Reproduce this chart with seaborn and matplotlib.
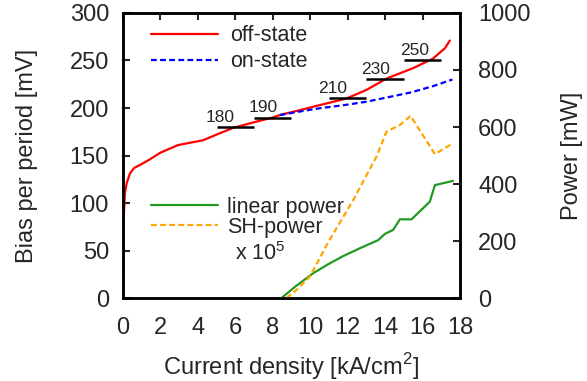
import matplotlib
matplotlib.use("Agg")
import matplotlib.pyplot as plt
import seaborn as sns
import pandas as pd

# Bias per period (mV) versus current density (kA/cm^2)
off_j = [0.0, 0.02, 0.05, 0.1, 0.2, 0.37, 0.6, 1.0, 1.44, 2.0, 2.94, 4.27, 5.18, 5.87, 7.0, 8.0, 8.38,
         9.5, 10.5, 11.94, 13.0, 14.08, 15.5, 16.56, 17.2, 17.46]
off_v = [10, 60, 88, 110, 121, 131, 137, 141, 146, 153, 161, 166, 173.5, 179, 185, 190, 192.6,
         198, 203, 210, 219, 231, 242, 252, 263, 271]
on_j = [8.38, 9.5, 10.5, 11.8, 13.0, 14.2, 15.4, 16.56, 17.6]
on_v = [192.6, 196.5, 199.7, 203, 206.6, 211.5, 216.5, 223, 230]

# Voltage step markers and their labels
step_v = [180, 190, 210, 230, 250]
step_j0 = [5.0, 7.0, 11.0, 13.0, 15.0]
step_j1 = [7.0, 9.0, 13.0, 15.0, 17.0]
step_label_j = [5.2, 7.5, 11.2, 13.5, 15.6]

# Output power (mW)
lin_j = [8.47, 9.2, 10.16, 11.0, 11.76, 12.7, 13.63, 13.99, 14.43, 14.79, 15.41, 16.39, 16.66, 17.63]
lin_p = [0, 40, 87, 120, 147, 176, 203, 225, 239, 276, 276, 338, 396, 411]
sh_j = [8.74, 9.3, 9.98, 11.0, 12.3, 13.0, 13.54, 14.08, 14.79, 15.36, 16.66, 17.63]
sh_p = [0, 30, 75, 200, 344, 430, 496, 584, 607, 639, 505, 543]

sns.set_style("white")
plt.rcParams["font.family"] = ["Liberation Sans", "DejaVu Sans"]
plt.rcParams["mathtext.fontset"] = "custom"
plt.rcParams["mathtext.rm"] = "Liberation Sans"

FS = 17
LFS = 15.5
LW = 1.6
DASH = (0, (2.6, 1.5))

fig = plt.figure(figsize=(5.87, 3.81), dpi=100)
ax = fig.add_axes([0.2095, 0.2178, 0.5741, 0.7481])
ax2 = ax.twinx()

off_df = pd.DataFrame({"j": off_j, "v": off_v})
on_df = pd.DataFrame({"j": on_j, "v": on_v})
sns.lineplot(data=off_df, x="j", y="v", ax=ax, color="#ff0000", lw=LW, label="off-state",
             sort=False, estimator=None)
sns.lineplot(data=on_df, x="j", y="v", ax=ax, color="#0000ff", lw=LW, label="on-state",
             sort=False, estimator=None, linestyle=DASH)

for v, a, b, lj in zip(step_v, step_j0, step_j1, step_label_j):
    ax.plot([a, b], [v, v], color="black", lw=1.8, solid_capstyle="butt")
    ax.text(lj, v + 2.5, str(v), fontsize=12.5, ha="center", va="bottom")

lin_df = pd.DataFrame({"j": lin_j, "p": lin_p})
sh_df = pd.DataFrame({"j": sh_j, "p": sh_p})
sns.lineplot(data=lin_df, x="j", y="p", ax=ax2, color="#229922", lw=LW, label="linear power",
             sort=False, estimator=None)
sns.lineplot(data=sh_df, x="j", y="p", ax=ax2, color="#ffa500", lw=LW,
             label="SH-power", sort=False, estimator=None, linestyle=DASH)

ax.set_xlim(0, 18)
ax.set_ylim(0, 300)
ax2.set_ylim(0, 1000)
ax.set_xticks(range(0, 19, 2))
ax.set_yticks(range(0, 301, 50))
ax2.set_yticks(range(0, 1001, 200))

ax.set_xlabel("Current density [kA/cm$^2$]", fontsize=FS, labelpad=8.5)
ax.set_ylabel("Bias per period [mV]", fontsize=FS, labelpad=23)
ax2.set_ylabel("Power [mW]", fontsize=FS, labelpad=22)

for a in (ax, ax2):
    for s in a.spines.values():
        s.set_linewidth(1.8)
        s.set_color("black")
ax.tick_params(axis="x", which="major", direction="in", length=5, width=1.5, labelsize=FS,
               top=True, pad=14)
ax.tick_params(axis="y", which="major", direction="in", length=5, width=1.5, labelsize=FS,
               left=True, right=False, pad=10)
ax2.tick_params(axis="y", which="major", direction="in", length=5, width=1.5, labelsize=FS,
                right=True, pad=13)

ax.legend(loc="upper left", bbox_to_anchor=(0.038, 1.01), frameon=False, fontsize=LFS,
          handlelength=3.1, handletextpad=0.6, labelspacing=0.23, borderaxespad=0.3)
ax2.legend(loc="lower left", bbox_to_anchor=(0.038, 0.158), frameon=False, fontsize=LFS,
           handlelength=3.1, handletextpad=0.45, labelspacing=-0.05, borderaxespad=0.3)
# scale factor shown beneath the SH-power entry
ax2.text(0.332, 0.155, "x 10$^5$", transform=ax2.transAxes, fontsize=LFS,
         ha="left", va="center")

fig.savefig("out.png", dpi=100)
